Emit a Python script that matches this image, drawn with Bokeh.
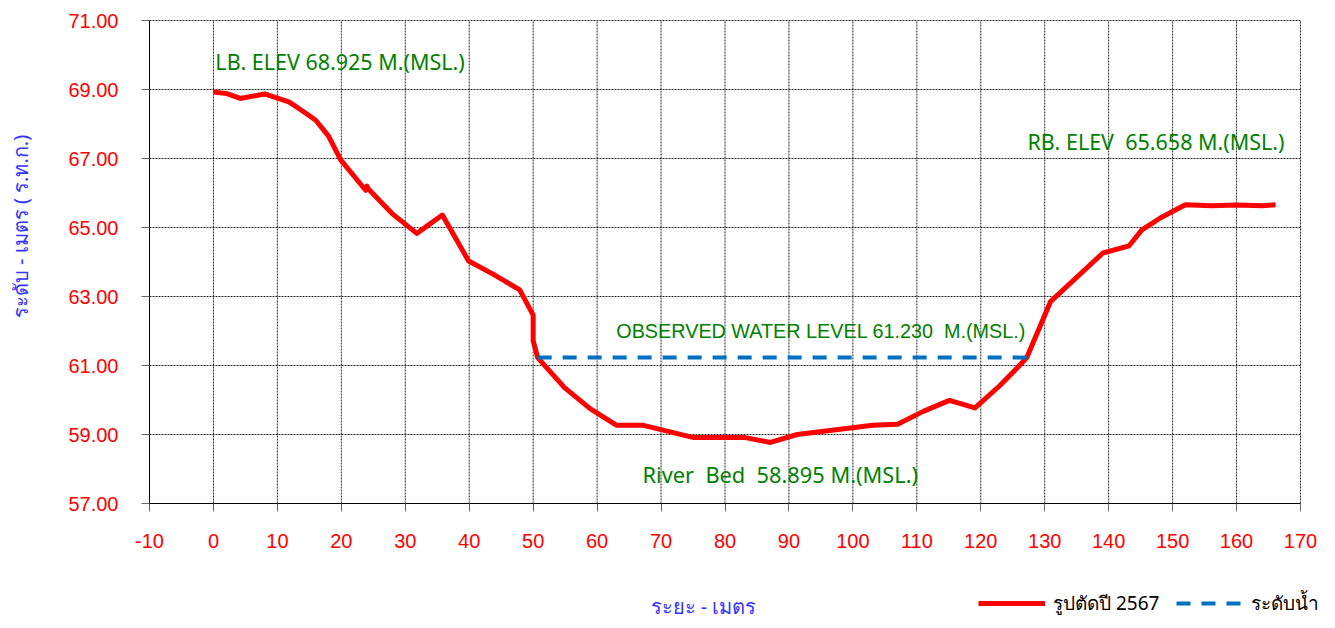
import math
from bokeh.plotting import figure
from bokeh.models import Range1d, FixedTicker, PrintfTickFormatter, Label, Legend, LegendItem
from bokeh.embed import file_html
from bokeh.resources import INLINE

# Cross-section (distance m, elevation m MSL)
dist = [0, 2.1, 4.2, 8.0, 11.8, 14.0, 16.0, 18.0, 19.9, 23.8, 24.0, 24.2, 27.9, 31.8,
        35.8, 39.9, 43.8, 47.9, 50.0, 50.0, 50.7, 54.9, 58.9, 63.0, 67.1, 75.1, 83.2,
        87.1, 91.3, 103.1, 107.0, 111.0, 115.1, 119.1, 123.0, 125.8, 127.2, 130.9,
        139.1, 143.2, 145.2, 148.2, 152.0, 156.1, 160.0, 164.0, 166.1]
elev = [68.925, 68.88, 68.74, 68.87, 68.64, 68.37, 68.11, 67.65, 66.96, 66.08, 66.20, 66.12,
        65.41, 64.83, 65.36, 64.03, 63.64, 63.19, 62.46, 61.72, 61.23, 60.36, 59.75, 59.27,
        59.27, 58.91, 58.91, 58.77, 59.00, 59.27, 59.30, 59.67, 59.99, 59.77, 60.42, 60.95,
        61.23, 62.85, 64.26, 64.47, 64.93, 65.29, 65.658, 65.63, 65.65, 65.63, 65.66]

water_x = [50.7, 127.2]
water_y = [61.23, 61.23]

x_min, x_max = -10, 170
y_min, y_max = 57, 71
x_ticks = list(range(x_min, x_max + 1, 10))
y_ticks = list(range(y_min, y_max + 1, 2))

series_names = ["รูปตัดปี 2567", "ระดับน้ำ"]
x_title = "ระยะ - เมตร"
y_title = "ระดับ - เมตร ( ร.ท.ก.)"
NB = "\u00a0"
notes = [
    ("LB. ELEV 68.925 M.(MSL.)", 0.3, 69.82, "Noto Sans", "21.5px"),
    ("RB. ELEV" + NB + NB + "65.658 M.(MSL.)", 127.3, 67.49, "Noto Sans", "21.5px"),
    ("OBSERVED WATER LEVEL 61.230" + NB + NB + "M.(MSL.)", 63.0, 62.01, "Liberation Sans", "19.8px"),
    ("River" + NB + NB + "Bed" + NB + NB + "58.895 M.(MSL.)", 67.1, 57.84, "Noto Sans", "21.8px"),
]

W, H = 1335, 628
# plot area in canvas pixels (left, right, top, bottom)
PL, PR, PT, PB = 149, 1300, 20, 503
kx = (PR - PL) / (x_max - x_min)
ky = (PB - PT) / (y_max - y_min)
xr = Range1d(x_min - PL / kx, x_max + (W - PR) / kx)
yr = Range1d(y_min - (H - PB) / ky, y_max + PT / ky)

p = figure(width=W, height=H, output_backend="svg", toolbar_location=None,
           x_range=xr, y_range=yr,
           min_border_left=0, min_border_right=0, min_border_top=0, min_border_bottom=0)
p.outline_line_color = None
p.xgrid.visible = False
p.ygrid.visible = False

# grid lines (dotted) from the tick lists
p.segment(x0=x_ticks, y0=[y_min] * len(x_ticks), x1=x_ticks, y1=[y_max] * len(x_ticks),
          line_color="black", line_dash="2 1", line_width=1, line_alpha=0.85)
p.segment(x0=[x_min] * len(y_ticks), y0=y_ticks, x1=[x_max] * len(y_ticks), y1=y_ticks,
          line_color="black", line_dash="2 1", line_width=1, line_alpha=0.85)

red_r = p.line(dist, elev, line_color="#FF0000", line_width=5, line_join="round")
blue_r = p.line(water_x, water_y, line_color="#0070C0", line_width=4, line_dash="14 11")

p.xaxis.fixed_location = y_min
p.yaxis.fixed_location = x_min
p.xaxis.bounds = (x_min, x_max)
p.yaxis.bounds = (y_min, y_max)
for ax in (p.xaxis, p.yaxis):
    ax.axis_line_color = "black"
    ax.major_tick_line_color = "#666666"
    ax.major_tick_out = 8
    ax.major_tick_in = 0
    ax.minor_tick_line_color = None
    ax.major_label_text_color = "#FF0000"
    ax.major_label_text_font = "Liberation Sans"
    ax.major_label_text_font_size = "20px"

p.xaxis.ticker = FixedTicker(ticks=x_ticks)
p.yaxis.ticker = FixedTicker(ticks=y_ticks)
p.xaxis.formatter = PrintfTickFormatter(format="%d")
p.yaxis.formatter = PrintfTickFormatter(format="%.2f")
p.xaxis.major_label_standoff = 22
p.yaxis.major_label_standoff = 23

for txt, x, y, font, size in notes:
    p.add_layout(Label(x=x, y=y, text=txt, text_color="#008000", text_font=font,
                       text_font_size=size, text_baseline="middle", text_align="left"))

p.add_layout(Label(x=76.64, y=54.01, text=x_title, text_color="#3333FF", text_font="Noto Sans",
                   text_font_size="20px", text_baseline="middle", text_align="center"))
p.add_layout(Label(x=-30.17, y=65.03, text=y_title, text_color="#3333FF", text_font="Noto Sans",
                   text_font_size="20px", text_baseline="middle", text_align="center",
                   angle=math.pi / 2))

legend = Legend(items=[LegendItem(label=series_names[0], renderers=[red_r]),
                       LegendItem(label=series_names[1], renderers=[blue_r])],
                location=(978, 10), orientation="horizontal", glyph_width=67, glyph_height=20,
                label_standoff=8, spacing=17, padding=0, margin=0, border_line_alpha=0,
                background_fill_alpha=0, label_text_font="Noto Sans", label_text_font_size="19px",
                label_text_color="black")
p.add_layout(legend, "center")

open("out.html", "w").write(file_html(p, INLINE))
